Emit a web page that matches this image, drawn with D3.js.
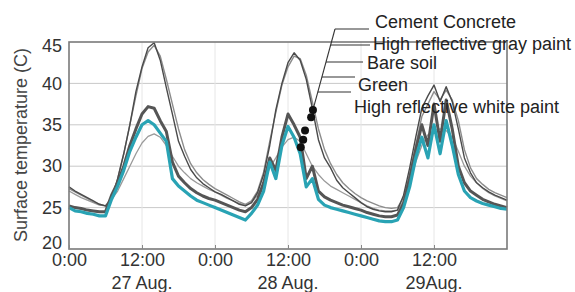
<!DOCTYPE html>
<html lang="en">
<head>
<meta charset="UTF-8">
<title>Surface temperature</title>
<script src="https://d3js.org/d3.v7.min.js"></script>
<style>
  body { margin: 0; background: #fff; }
  text { font-family: "Liberation Sans", Arial, Helvetica, sans-serif; }
</style>
</head>
<body>
<svg id="chart" width="575" height="292"></svg>
<script>
// hours from 0:00 on 27 Aug, one reading per hour
const hours = d3.range(0, 73);

const cement = [27.5, 27.0, 26.6, 26.2, 25.8, 25.4, 25.2, 26.0, 28.5, 31.5, 35.0, 39.0, 42.0, 44.3, 44.9, 42.8,
  39.5, 36.3, 33.0, 31.2, 29.6, 28.6, 27.9, 27.4, 26.9, 26.6, 26.2, 25.8, 25.4, 25.2, 25.6, 26.8, 29.0, 32.5,
  36.8, 40.0, 42.5, 43.7, 42.8, 40.5, 37.0, 33.2, 31.0, 29.8, 28.3, 27.4, 26.8, 26.2, 25.6, 25.1, 24.8, 24.6,
  24.5, 24.5, 24.7, 26.5, 29.8, 33.5, 37.0, 38.5, 39.8, 37.8, 39.6, 37.8, 34.5, 31.0, 29.2, 28.0, 27.4, 26.9,
  26.5, 26.2, 25.9];
const graypaint = [25.2, 25.0, 24.9, 24.7, 24.6, 24.5, 24.5, 26.5, 28.0, 30.0, 32.5, 34.5, 36.3, 37.2, 37.0, 35.5,
  34.2, 30.5, 28.8, 28.0, 27.3, 26.8, 26.4, 26.1, 25.9, 25.6, 25.3, 25.0, 24.7, 24.5, 25.0, 26.0, 28.0, 31.0,
  29.5, 33.5, 36.3, 35.0, 33.5, 28.5, 30.0, 27.0, 26.3, 25.9, 25.6, 25.3, 25.1, 24.9, 24.7, 24.4, 24.2, 24.0,
  23.9, 23.9, 24.1, 25.5, 28.5, 32.0, 35.0, 32.5, 37.5, 33.0, 38.0, 34.5, 30.0, 28.0, 27.0, 26.5, 26.0, 25.7,
  25.4, 25.2, 25.0];
const baresoil = [27.3, 26.9, 26.5, 26.1, 25.7, 25.4, 25.2, 26.2, 28.5, 31.5, 35.0, 38.5, 41.8, 43.8, 44.6, 43.3,
  40.5, 37.5, 34.5, 32.0, 30.3, 29.2, 28.4, 27.8, 27.3, 26.9, 26.5, 26.1, 25.7, 25.4, 25.8, 27.0, 29.3, 33.0,
  36.5, 39.8, 42.0, 43.3, 43.0, 41.0, 37.8, 34.5, 32.0, 30.3, 29.0, 28.0, 27.3, 26.7, 26.2, 25.8, 25.5, 25.2,
  25.0, 24.9, 25.0, 26.2, 29.0, 32.5, 36.0, 37.5, 39.0, 38.0, 39.2, 38.0, 35.5, 32.0, 29.8, 28.5, 27.8, 27.2,
  26.8, 26.5, 26.2];
const green = [27.0, 26.6, 26.2, 25.9, 25.6, 25.3, 25.2, 26.0, 27.0, 28.5, 30.0, 31.5, 32.8, 33.6, 33.9, 33.5,
  32.5, 31.2, 30.0, 29.2, 28.5, 28.0, 27.6, 27.2, 26.9, 26.5, 26.1, 25.8, 25.5, 25.3, 25.6, 26.5, 28.0, 29.8,
  31.0, 32.3, 33.2, 33.5, 33.0, 31.5, 30.0, 29.0, 28.2, 27.6, 27.2, 26.8, 26.4, 26.0, 25.6, 25.2, 24.9, 24.7,
  24.6, 24.6, 24.7, 25.8, 28.0, 30.5, 32.5, 33.8, 34.3, 34.5, 34.3, 33.5, 31.8, 30.0, 28.8, 28.0, 27.3, 26.8,
  26.4, 26.1, 25.8];
const whitepaint = [25.0, 24.6, 24.5, 24.3, 24.2, 24.0, 24.0, 26.0, 27.6, 29.5, 31.8, 33.5, 35.0, 35.5, 35.0, 34.0,
  33.0, 28.5, 27.6, 27.0, 26.4, 25.9, 25.6, 25.3, 25.0, 24.7, 24.4, 24.1, 23.8, 23.5, 24.3, 25.3, 27.0, 30.5,
  28.5, 32.5, 34.8, 33.5, 31.5, 27.5, 28.5, 26.0, 25.3, 25.0, 24.8, 24.6, 24.4, 24.2, 24.0, 23.8, 23.6, 23.4,
  23.3, 23.3, 23.5, 25.0, 27.5, 31.0, 33.5, 31.0, 35.0, 31.5, 35.5, 32.5, 29.0, 27.0, 26.2, 25.8, 25.5, 25.3,
  25.1, 24.9, 24.8];

// label points on the 28 Aug afternoon descent [hour, temperature]
const markers = [[40.1, 36.8], [39.8, 35.9], [38.8, 34.3], [38.5, 33.2], [38.1, 32.3]];

const labels = ["Cement Concrete", "High reflective gray paint", "Bare soil", "Green", "High reflective white paint"];
const yTicks = [20, 25, 30, 35, 40, 45];
const xTicks = [0, 12, 24, 36, 48, 60];
const xTickLabels = ["0:00", "12:00", "0:00", "12:00", "0:00", "12:00"];
const dayLabels = [[12, "27 Aug."], [36, "28 Aug."], [60, "29Aug."]];

const svg = d3.select("#chart");
const mLeft = 69, mRight = 507, mTop = 42, mBottom = 249;

const x = d3.scaleLinear().domain([0, 72]).range([mLeft, mRight]);
const y = d3.scaleLinear().domain([20, 45]).range([mBottom, mTop]);

// grid
svg.append("g").selectAll("line").data(yTicks.slice(1, -1)).join("line")
  .attr("x1", mLeft).attr("x2", mRight)
  .attr("y1", d => y(d)).attr("y2", d => y(d))
  .attr("stroke", "#c9c9c9").attr("stroke-width", 1);
svg.append("g").selectAll("line").data(xTicks.slice(1)).join("line")
  .attr("x1", d => x(d)).attr("x2", d => x(d))
  .attr("y1", mTop).attr("y2", mBottom)
  .attr("stroke", "#e6e6e6").attr("stroke-width", 1);

const line = d3.line().x((d, i) => x(hours[i])).y(d => y(d));

const series = [
  { v: green, color: "#9a9a9a", w: 1.3 },
  { v: baresoil, color: "#8c8c8c", w: 1.4 },
  { v: cement, color: "#4a4a4a", w: 1.4 },
  { v: graypaint, color: "#555", w: 3 },
  { v: whitepaint, color: "#29a3b4", w: 3.2 }
];
svg.append("g").selectAll("path").data(series).join("path")
  .attr("d", d => line(d.v))
  .attr("fill", "none")
  .attr("stroke", d => d.color)
  .attr("stroke-width", d => d.w)
  .attr("stroke-linejoin", "round");

// frame
svg.append("rect")
  .attr("x", mLeft).attr("y", mTop)
  .attr("width", mRight - mLeft).attr("height", mBottom - mTop)
  .attr("fill", "none").attr("stroke", "#7a7a7a").attr("stroke-width", 1.6);

// axes
const yAxis = svg.append("g").attr("transform", `translate(${mLeft},0)`)
  .call(d3.axisLeft(y).tickValues(yTicks).tickSize(0).tickPadding(7));
yAxis.select(".domain").remove();
yAxis.selectAll("text")
  .attr("font-size", 18).attr("fill", "#333")
  .attr("dy", d => d === 20 ? "-0.05em" : d === 45 ? "0.5em" : "0.32em");

const xAxis = svg.append("g").attr("transform", `translate(0,${mBottom})`)
  .call(d3.axisBottom(x).tickValues(xTicks).tickFormat((d, i) => xTickLabels[i]).tickSize(-4).tickPadding(4));
xAxis.select(".domain").remove();
xAxis.selectAll("line").attr("stroke", "#888");
xAxis.selectAll("text").attr("font-size", 18).attr("fill", "#333");

svg.append("g").selectAll("text").data(dayLabels).join("text")
  .attr("x", d => x(d[0])).attr("y", 289)
  .attr("text-anchor", "middle")
  .attr("font-size", 18).attr("fill", "#333")
  .text(d => d[1]);

svg.append("text")
  .attr("transform", "translate(27,145) rotate(-90)")
  .attr("text-anchor", "middle")
  .attr("font-size", 18).attr("fill", "#444")
  .text("Surface temperature (C)");

// leader lines
const top0 = [x(markers[0][0]), y(markers[0][1])];
const leadTop = [335, 29];
svg.append("line")
  .attr("x1", top0[0]).attr("y1", top0[1])
  .attr("x2", leadTop[0]).attr("y2", leadTop[1])
  .attr("stroke", "#333").attr("stroke-width", 1.1);

const branchY = [29, 45, 62, 77, 92];
const branchEnd = [369, 370, 363, 355, 351];
const labelX = [375, 373, 367, 358, 354];
const labelY = [28, 50, 69, 91, 113];
const onDiag = yy => top0[0] + (leadTop[0] - top0[0]) * (top0[1] - yy) / (top0[1] - leadTop[1]);

svg.append("g").selectAll("line").data(branchY).join("line")
  .attr("x1", d => onDiag(d)).attr("x2", (d, i) => branchEnd[i])
  .attr("y1", d => d).attr("y2", d => d)
  .attr("stroke", "#333").attr("stroke-width", 1.1);

svg.append("g").selectAll("circle").data(markers).join("circle")
  .attr("cx", d => x(d[0])).attr("cy", d => y(d[1]))
  .attr("r", 4).attr("fill", "#111");

svg.append("g").selectAll("text").data(labels).join("text")
  .attr("x", (d, i) => labelX[i]).attr("y", (d, i) => labelY[i])
  .attr("font-size", 18).attr("fill", "#222")
  .text(d => d);
</script>
</body>
</html>
